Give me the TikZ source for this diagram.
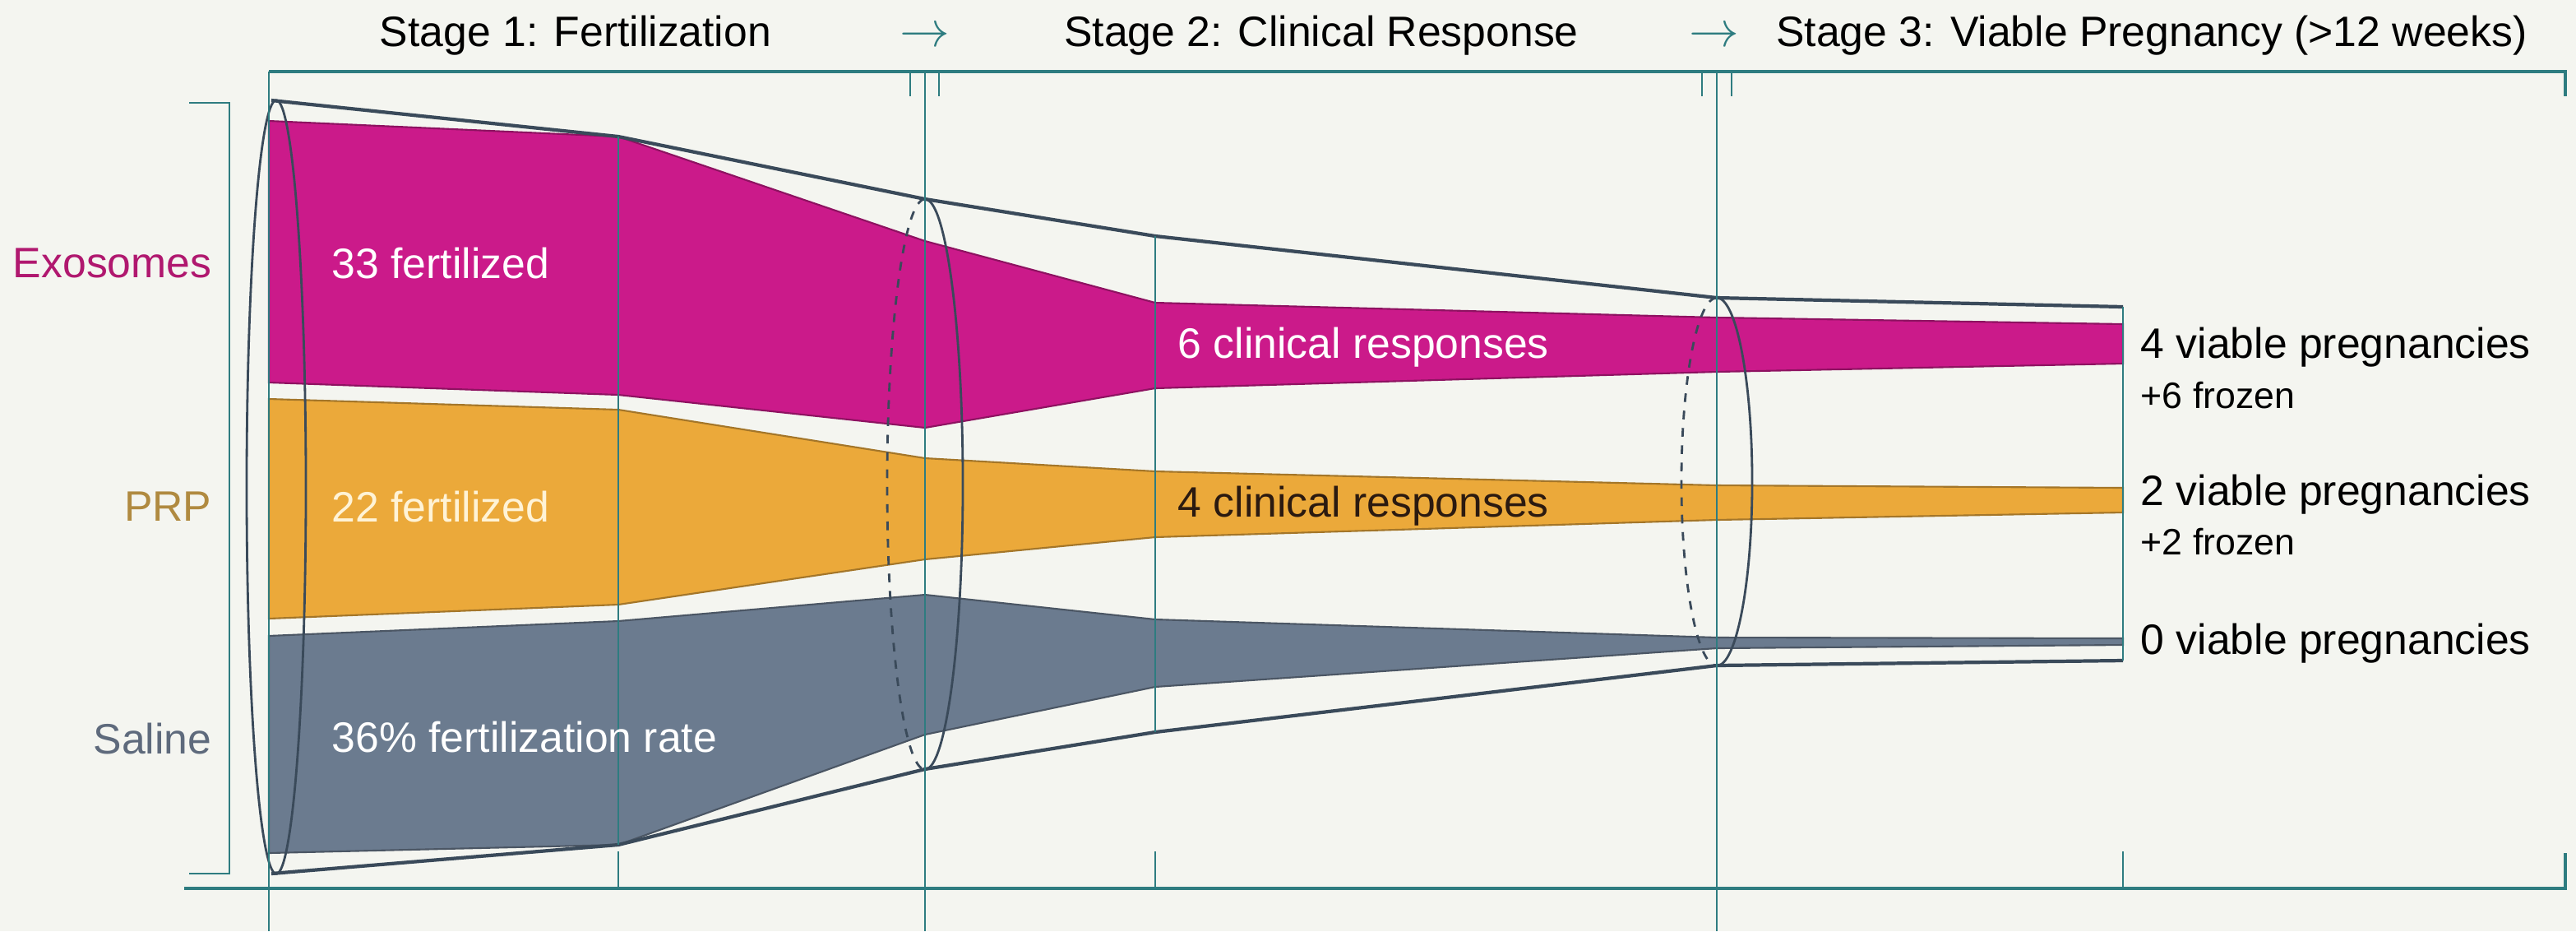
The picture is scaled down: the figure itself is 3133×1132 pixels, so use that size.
\documentclass[tikz,border=0pt]{standalone}
\usepackage{fontspec}
\setmainfont{Liberation Sans}
\usetikzlibrary{positioning}

\definecolor{bgcol}{HTML}{F4F5F0}
\definecolor{guidecol}{HTML}{2E7C80}
\definecolor{funnelcol}{HTML}{3A4A5A}
\definecolor{exocol}{HTML}{CB1A8A}
\definecolor{prpcol}{HTML}{EBA93A}
\definecolor{salcol}{HTML}{6B7B8F}
\definecolor{exotext}{HTML}{B0186F}
\definecolor{prptext}{HTML}{B08A40}
\definecolor{saltext}{HTML}{5E6A7C}
\definecolor{creamtext}{HTML}{FFF3D6}
\definecolor{darktext}{HTML}{2B1A10}

\tikzset{
  lbl/.style={font=\fontsize{14.7}{17}\selectfont, inner sep=0pt},
  smalllbl/.style={font=\fontsize{12.7}{15}\selectfont, inner sep=0pt},
  stagearrow/.style={inner sep=0pt, text=guidecol, font=\fontsize{19}{19}\selectfont},
  band/.style={fill=#1, draw=#1!70!black, line width=0.6pt},
  guide/.style={draw=guidecol, line width=0.8pt},
  axis/.style={draw=guidecol, line width=1.3pt},
  funnel/.style={draw=funnelcol, line width=1.2pt, line join=round},
  rim/.style={draw=funnelcol, line width=0.8pt},
}

\begin{document}
\begin{tikzpicture}[x=0.01cm, y=-0.01cm]
  \fill[bgcol] (0,0) rectangle (3133,1132);
  \useasboundingbox (0,0) rectangle (3133,1132);

  % bands
  \filldraw[band=exocol] (327,147) -- (752,166) -- (1125,293) -- (1405,368) -- (2088,386) -- (2582,394)
    -- (2582,442) -- (2088,452) -- (1405,472) -- (1125,520) -- (752,480) -- (327,465) -- cycle;
  \filldraw[band=prpcol] (327,485) -- (752,498) -- (1125,557) -- (1405,573) -- (2088,590) -- (2582,593)
    -- (2582,623) -- (2088,632) -- (1405,653) -- (1125,680) -- (752,735) -- (327,752) -- cycle;
  \filldraw[band=salcol] (327,773) -- (752,755) -- (1125,723) -- (1405,753) -- (2088,775) -- (2582,776)
    -- (2582,784) -- (2088,788) -- (1405,835) -- (1125,893) -- (752,1027) -- (327,1037) -- cycle;

  % funnel
  \draw[funnel] (330,122) -- (752,166) -- (1125,242) -- (1405,287) -- (2088,362) -- (2582,373);
  \draw[funnel] (330,1062) -- (752,1027) -- (1125,935) -- (1405,890) -- (2088,809) -- (2582,803);
  \draw[rim] (336,592) ellipse [x radius=0.36cm, y radius=4.7cm];
  \draw[rim] (1125,242) arc[start angle=90, end angle=-90, x radius=0.46cm, y radius=3.465cm];
  \draw[rim, dashed] (1125,242) arc[start angle=90, end angle=270, x radius=0.46cm, y radius=3.465cm];
  \draw[rim] (2088,362) arc[start angle=90, end angle=-90, x radius=0.43cm, y radius=2.235cm];
  \draw[rim, dashed] (2088,362) arc[start angle=90, end angle=270, x radius=0.43cm, y radius=2.235cm];

  % guides
  \foreach \x in {327,1125,2088} {
    \draw[guide] (\x,87) -- (\x,1132);
  }
  \foreach \x/\t/\b in {752/166/1027, 1405/287/890, 2582/373/803} {
    \draw[guide] (\x,\t) -- (\x,\b);
    \draw[guide] (\x,1035) -- (\x,1080);
  }
  \foreach \x in {1107,1142,2070,2106} {
    \draw[guide] (\x,87) -- (\x,117);
  }
  \draw[axis] (327,87) -- (3120,87) -- (3120,117);
  \draw[axis] (224,1080) -- (3120,1080) -- (3120,1037);
  \draw[guide] (230,125) -- (279,125) -- (279,1062) -- (230,1062);

  % stage titles
  \node[lbl] (stageOne) at (700,43) {Stage 1: Fertilization};
  \node[lbl] (stageTwo) at (1607,43) {Stage 2: Clinical Response};
  \node[lbl] (stageThree) at (2617,43) {Stage 3: Viable Pregnancy (>12 weeks)};
  \node[stagearrow] (arrowOne) at (1125,45) {$\rightarrow$};
  \node[stagearrow] (arrowTwo) at (2085,45) {$\rightarrow$};

  % group names
  \node[lbl, anchor=east, text=exotext] (exoName) at (258,320) {Exosomes};
  \node[lbl, anchor=east, text=prptext] (prpName) at (258,616) {PRP};
  \node[lbl, anchor=east, text=saltext] (salName) at (258,898) {Saline};

  % stage values
  \node[lbl, anchor=west, text=white] (exoFert) at (403,320) {33 fertilized};
  \node[lbl, anchor=west, text=creamtext] (prpFert) at (403,616) {22 fertilized};
  \node[lbl, anchor=west, text=white] (salFert) at (403,896) {36\% fertilization rate};
  \node[lbl, anchor=west, text=white] (exoResp) at (1432,422) {6 clinical responses};
  \node[lbl, anchor=west, text=darktext] (prpResp) at (1432,615) {4 clinical responses};
  \node[lbl, anchor=west] (exoPreg) at (2603,422) {4 viable pregnancies};
  \node[smalllbl, anchor=west] (exoFroz) at (2603,481) {+6 frozen};
  \node[lbl, anchor=west] (prpPreg) at (2603,601) {2 viable pregnancies};
  \node[smalllbl, anchor=west] (prpFroz) at (2603,659) {+2 frozen};
  \node[lbl, anchor=west] (salPreg) at (2603,782) {0 viable pregnancies};
\end{tikzpicture}
\end{document}
